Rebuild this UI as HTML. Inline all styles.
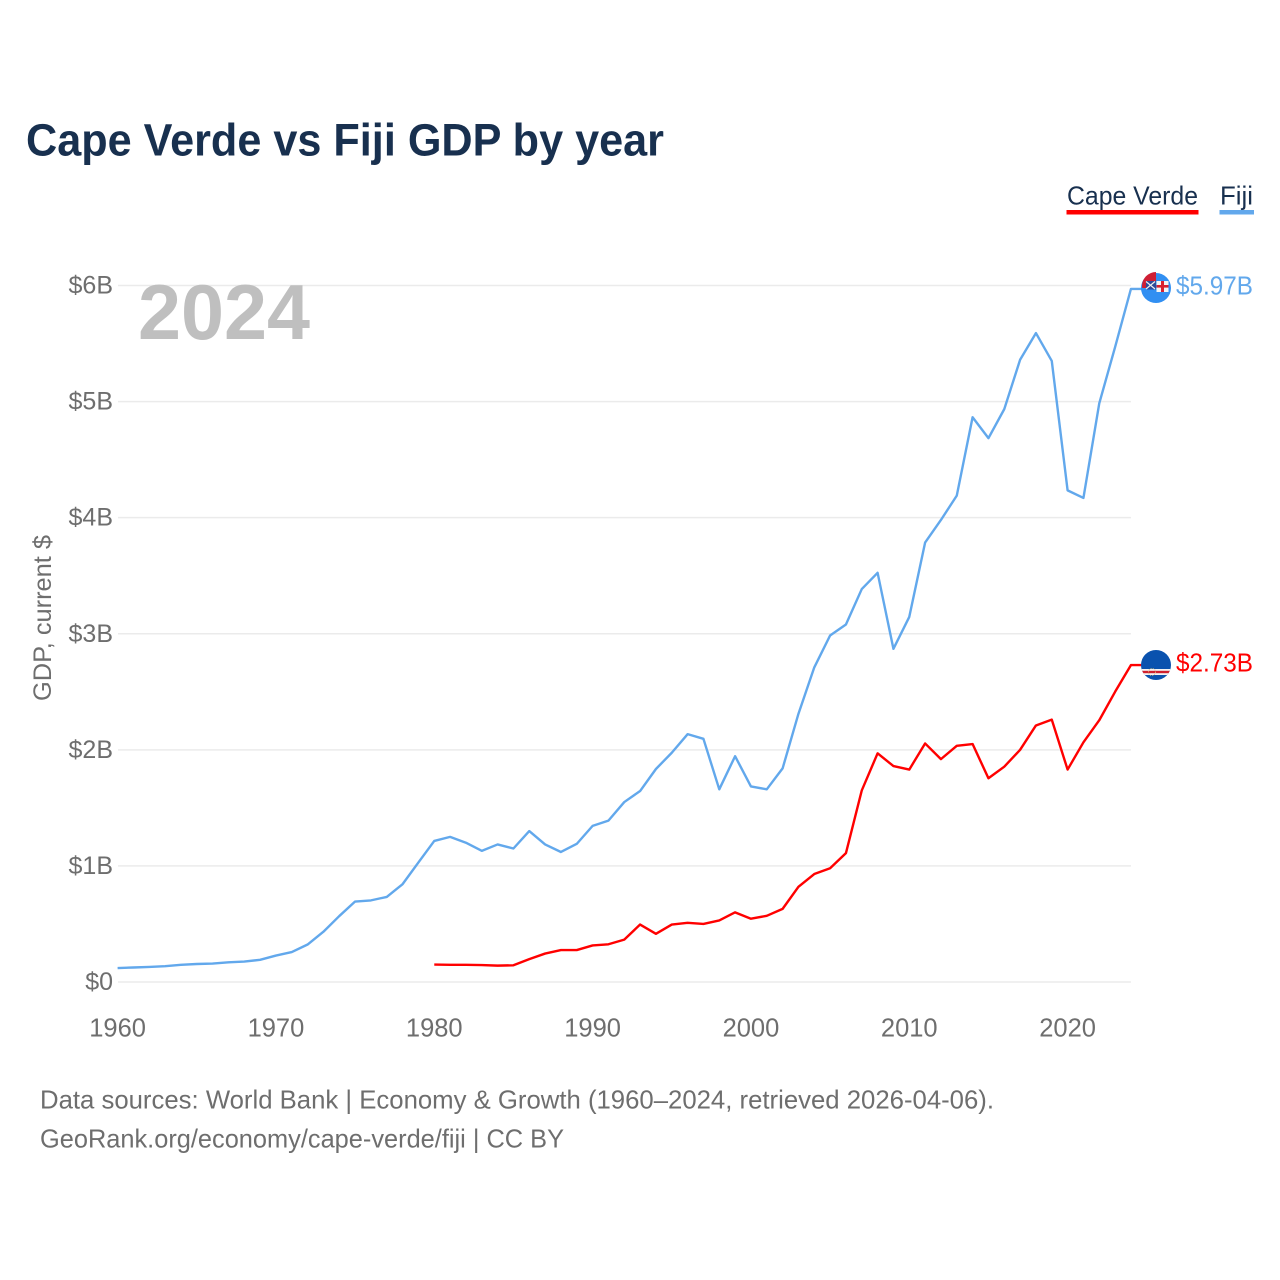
<!DOCTYPE html>
<html lang="en">
<head>
<meta charset="utf-8">
<title>Cape Verde vs Fiji GDP by year</title>
<style>
html,body{margin:0;padding:0;background:#fff;width:1280px;height:1280px;overflow:hidden}
svg{display:block}
text{font-family:"Liberation Sans",sans-serif}
</style>
</head>
<body>
<svg id="chart" xmlns="http://www.w3.org/2000/svg" width="1280" height="1280" viewBox="0 0 1280 1280">
  <defs>
    <clipPath id="clip-cv"><circle cx="1156" cy="665" r="15"/></clipPath>
    <clipPath id="clip-fiji-small"><circle cx="1156" cy="286" r="14"/></clipPath>
  </defs>
  <text x="26" y="155.5" font-size="45" font-weight="700" fill="#18304f" textLength="638" lengthAdjust="spacingAndGlyphs">Cape Verde vs Fiji GDP by year</text>

  <g>
    <g>
      <text x="1067" y="204.5" font-size="26" fill="#18304f" textLength="131" lengthAdjust="spacingAndGlyphs">Cape Verde</text>
      <rect x="1066.5" y="210" width="132" height="4.5" fill="#ff0000"/>
    </g>
    <g>
      <text x="1220" y="204.5" font-size="26" fill="#18304f" textLength="33" lengthAdjust="spacingAndGlyphs">Fiji</text>
      <rect x="1219.5" y="210" width="34.5" height="4.5" fill="#62a8ec"/>
    </g>
  </g>

  <g id="grid"></g>
  <g id="y-ticks"></g>
  <g id="x-ticks"></g>

  <text transform="translate(51,701) rotate(-90)" font-size="25" fill="#6e6e6e" textLength="166" lengthAdjust="spacingAndGlyphs">GDP, current $</text>

  <text x="138" y="339" font-size="78" font-weight="700" fill="#bfbfbf" textLength="172" lengthAdjust="spacingAndGlyphs">2024</text>

  <g id="series"></g>

  <g>
    <circle cx="1156" cy="288" r="15" fill="#318ff2"/>
    <g clip-path="url(#clip-fiji-small)">
      <rect x="1141" y="272" width="15" height="16" fill="#cf1f34"/>
      <rect x="1146" y="281" width="10" height="8.5" fill="#2b4a9b"/>
      <path d="M1146 281.5 L1155 289 M1155 281.5 L1146 289" stroke="#eeeeee" stroke-width="1.2"/>
      <rect x="1156.5" y="281" width="12" height="11" fill="#f3f3f3"/>
      <rect x="1161" y="281" width="3" height="11" fill="#d8202f"/>
      <rect x="1156.5" y="285" width="12" height="2.6" fill="#d8202f"/>
    </g>
  </g>
  <g clip-path="url(#clip-cv)">
    <rect x="1141" y="650" width="30" height="30" fill="#0a52ae"/>
    <rect x="1141" y="669" width="30" height="6" fill="#f4f4f4"/>
    <rect x="1141" y="670.8" width="30" height="2.4" fill="#d0202e"/>
    <circle cx="1152" cy="672" r="3.6" fill="none" stroke="#d9c27a" stroke-width="0.8" stroke-dasharray="1 1.2"/>
  </g>

  <text id="label-fiji" x="1176" y="294.5" font-size="25.5" fill="#62a8ec" textLength="77" lengthAdjust="spacingAndGlyphs">$5.97B</text>
  <text id="label-cv" x="1176" y="671.5" font-size="25.5" fill="#ff0000" textLength="77" lengthAdjust="spacingAndGlyphs">$2.73B</text>

  <g>
    <text x="40" y="1108.5" font-size="26" fill="#6e6e6e" textLength="954" lengthAdjust="spacingAndGlyphs">Data sources: World Bank | Economy &amp; Growth (1960–2024, retrieved 2026-04-06).</text>
    <text x="40" y="1147.5" font-size="26" fill="#6e6e6e" textLength="524" lengthAdjust="spacingAndGlyphs">GeoRank.org/economy/cape-verde/fiji | CC BY</text>
  </g>
</svg>
<script>
const yTickValues = [0, 1, 2, 3, 4, 5, 6];
const yTickLabels = ["$0", "$1B", "$2B", "$3B", "$4B", "$5B", "$6B"];
const xTickValues = [1960, 1970, 1980, 1990, 2000, 2010, 2020];
const fijiStartYear = 1960;
const fijiValues = [0.12,0.125,0.13,0.136,0.148,0.155,0.159,0.17,0.176,0.191,0.228,0.258,0.323,0.433,0.568,0.693,0.703,0.733,0.843,1.03,1.215,1.25,1.2,1.13,1.185,1.15,1.3,1.185,1.12,1.19,1.345,1.39,1.55,1.645,1.835,1.975,2.135,2.095,1.66,1.945,1.685,1.66,1.84,2.31,2.71,2.985,3.08,3.385,3.525,2.87,3.145,3.785,3.98,4.19,4.865,4.685,4.935,5.36,5.59,5.35,4.235,4.17,4.985,5.47,5.97];
const capeVerdeStartYear = 1980;
const capeVerdeValues = [0.15,0.148,0.148,0.146,0.141,0.144,0.197,0.245,0.275,0.275,0.315,0.325,0.365,0.495,0.415,0.495,0.51,0.5,0.53,0.6,0.545,0.57,0.63,0.82,0.93,0.98,1.11,1.65,1.97,1.86,1.83,2.055,1.92,2.035,2.05,1.755,1.855,2.0,2.21,2.26,1.83,2.065,2.255,2.5,2.73];

const SVG_NS = 'http://www.w3.org/2000/svg';
function xScale(year) { return 117.6 + (year - 1960) * (950 / 60); }
function yScale(value) { return 982 - value * (696.5 / 6); }

const gridGroup = document.getElementById('grid');
const yTickGroup = document.getElementById('y-ticks');
const xTickGroup = document.getElementById('x-ticks');
const seriesGroup = document.getElementById('series');

yTickValues.forEach(function (value, i) {
  const line = document.createElementNS(SVG_NS, 'line');
  
  
  line.setAttribute('x1', 118);
  line.setAttribute('x2', xScale(2024));
  line.setAttribute('y1', yScale(value));
  line.setAttribute('y2', yScale(value));
  line.setAttribute('stroke', '#ebebeb');
  line.setAttribute('stroke-width', '1.5');
  gridGroup.appendChild(line);

  const label = document.createElementNS(SVG_NS, 'text');
  
  
  label.setAttribute('x', 113);
  label.setAttribute('y', yScale(value) + 8);
  label.setAttribute('text-anchor', 'end');
  label.setAttribute('font-size', '25');
  label.setAttribute('fill', '#6e6e6e');
  label.textContent = yTickLabels[i];
  yTickGroup.appendChild(label);
});

xTickValues.forEach(function (year) {
  const label = document.createElementNS(SVG_NS, 'text');
  
  
  label.setAttribute('x', xScale(year));
  label.setAttribute('y', 1036.5);
  label.setAttribute('text-anchor', 'middle');
  label.setAttribute('font-size', '25.5');
  label.setAttribute('fill', '#6e6e6e');
  label.textContent = String(year);
  xTickGroup.appendChild(label);
});

function drawSeries(values, startYear, color, flagX) {
  const parts = values.map(function (value, i) {
    return xScale(startYear + i).toFixed(2) + ',' + yScale(value).toFixed(2);
  });
  const last = yScale(values[values.length - 1]);
  parts.push(flagX + ',' + last.toFixed(2));
  const line = document.createElementNS(SVG_NS, 'polyline');
  
  
  line.setAttribute('points', parts.join(' '));
  line.setAttribute('fill', 'none');
  line.setAttribute('stroke', color);
  line.setAttribute('stroke-width', '2.4');
  line.setAttribute('stroke-linejoin', 'round');
  seriesGroup.appendChild(line);
}
drawSeries(fijiValues, fijiStartYear, '#62a8ec', 1142);
drawSeries(capeVerdeValues, capeVerdeStartYear, '#ff0000', 1142);
</script>
</body>
</html>
